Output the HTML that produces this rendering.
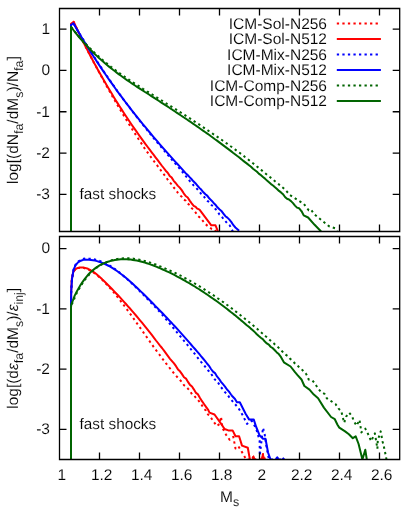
<!DOCTYPE html>
<html><head><meta charset="utf-8"><title>chart</title>
<style>
html,body{margin:0;padding:0;background:#fff;overflow:hidden;}
svg{display:block;}
text{font-family:"Liberation Sans",sans-serif;font-size:15.5px;fill:#000;stroke:#fff;stroke-width:0.1px;text-rendering:geometricPrecision;}
.tx{opacity:0.995;}
.sub{font-size:12.4px;}
</style></head><body>
<svg width="415" height="515" viewBox="0 0 415 515">
<rect width="415" height="515" fill="#fff"/>
<defs><clipPath id="c1"><rect x="59.5" y="8.5" width="340.2" height="223.0"/></clipPath><clipPath id="c2"><rect x="59.5" y="236.5" width="340.2" height="223.0"/></clipPath></defs>
<g clip-path="url(#c1)">
<polyline points="71.0,231.5 71.0,23.8 73.7,21.9 75.7,26.2 77.7,30.5 79.7,34.7 81.7,38.8 83.7,42.9 85.7,46.9 87.7,50.8 89.7,54.7 91.7,58.5 93.7,62.3 95.7,66.0 97.7,69.7 99.7,73.3 101.7,77.1 103.7,80.8 105.7,84.4 107.7,88.0 109.7,91.6 111.7,95.1 113.7,98.6 115.7,102.0 117.7,105.5 119.7,108.8 121.7,112.2 123.7,115.5 125.7,118.8 127.7,122.0 129.7,125.2 131.7,128.4 133.7,131.6 135.7,134.7 137.7,137.8 139.7,140.9 141.7,143.9 143.7,147.0 145.7,149.9 147.7,152.7 149.7,155.4 151.7,158.2 153.7,160.8 155.7,163.5 157.7,166.1 159.7,168.7 161.7,171.7 163.7,174.1 165.7,176.7 167.7,179.7 169.7,182.3 171.7,184.5 173.7,187.5 175.7,189.6 177.7,192.6 179.7,195.0 181.7,196.8 183.7,199.6 185.7,200.6 187.7,203.6 189.7,205.1 191.7,208.1 193.7,210.1 195.7,212.6 197.7,215.8 199.7,217.4 201.7,219.5 203.7,222.0 205.7,224.3 207.7,226.0 209.7,227.0 211.7,229.2 213.7,229.4 216.3,231.5" fill="none" stroke="#ff0000" stroke-width="2.0" stroke-linejoin="round" stroke-dasharray="2.3 3.24"/>
<polyline points="71.0,231.5 71.0,23.8 73.7,21.9 75.7,26.2 77.7,30.4 79.7,34.6 81.7,38.7 83.7,42.7 85.7,46.7 87.7,50.6 89.7,54.5 91.7,58.3 93.7,62.1 95.7,65.8 97.7,69.4 99.7,73.0 101.7,76.6 103.7,80.1 105.7,83.6 107.7,87.0 109.7,90.3 111.7,93.6 113.7,96.9 115.7,100.2 117.7,103.4 119.7,106.5 121.7,109.6 123.7,112.7 125.7,115.7 127.7,118.7 129.7,121.7 131.7,124.7 133.7,127.6 135.7,130.4 137.7,133.3 139.7,136.1 141.7,138.9 143.7,141.6 145.7,144.4 147.7,147.0 149.7,149.7 151.7,152.3 153.7,154.9 155.7,157.6 157.7,160.2 159.7,162.8 161.7,165.5 163.7,168.0 165.7,170.7 167.7,172.8 169.7,175.9 171.7,177.6 173.7,180.8 175.7,183.0 177.7,185.6 179.7,187.6 181.7,190.1 183.7,193.3 185.7,196.0 187.7,197.5 189.7,200.6 191.7,203.3 193.7,205.8 195.7,206.9 196.9,208.3 199.5,209.6 211.3,225.3 215.5,225.3 218.0,231.5" fill="none" stroke="#ff0000" stroke-width="2.0" stroke-linejoin="round"/>
<polyline points="71.0,231.5 71.0,25.0 73.4,23.3 75.4,26.7 77.4,30.0 79.4,33.4 81.4,36.7 83.4,39.9 85.4,43.1 87.4,46.3 89.4,49.5 91.4,52.6 93.4,55.7 95.4,58.8 97.4,61.9 99.4,64.9 101.4,67.9 103.4,70.9 105.4,73.8 107.4,76.7 109.4,79.6 111.4,82.5 113.4,85.3 115.4,88.2 117.4,91.0 119.4,93.8 121.4,96.6 123.4,99.3 125.4,102.0 127.4,104.7 129.4,107.4 131.4,110.0 133.4,112.7 135.4,115.3 137.4,117.8 139.4,120.4 141.4,122.9 143.4,125.4 145.4,127.9 147.4,130.4 149.4,132.9 151.4,135.3 153.4,137.8 155.4,140.2 157.4,142.6 159.4,144.9 161.4,147.3 163.4,149.7 165.4,152.0 167.4,154.4 169.4,156.7 171.4,159.1 173.4,161.4 175.4,163.7 177.4,166.0 179.4,168.4 181.4,170.8 183.4,173.2 185.4,175.7 187.4,178.1 189.4,180.6 191.4,182.7 193.4,185.2 195.4,186.9 197.4,189.3 199.4,191.6 201.4,194.1 203.4,195.8 205.4,198.6 207.4,200.9 209.4,202.3 211.4,205.0 213.4,206.5 215.4,209.1 217.4,210.9 219.4,214.4 221.4,215.9 223.4,219.0 225.4,221.1 227.4,223.6 229.4,224.9 231.4,228.7 232.8,231.5" fill="none" stroke="#0000ff" stroke-width="2.0" stroke-linejoin="round" stroke-dasharray="2.3 3.24"/>
<polyline points="71.0,231.5 71.0,25.0 73.4,23.3 75.4,26.7 77.4,30.2 79.4,33.6 81.4,36.9 83.4,40.2 85.4,43.5 87.4,46.7 89.4,49.9 91.4,53.1 93.4,56.2 95.4,59.3 97.4,62.4 99.4,65.4 101.4,68.4 103.4,71.4 105.4,74.3 107.4,77.2 109.4,80.1 111.4,82.9 113.4,85.7 115.4,88.5 117.4,91.3 119.4,94.0 121.4,96.7 123.4,99.4 125.4,102.0 127.4,104.6 129.4,107.2 131.4,109.8 133.4,112.4 135.4,114.9 137.4,117.4 139.4,119.9 141.4,122.4 143.4,124.8 145.4,127.2 147.4,129.6 149.4,132.0 151.4,134.4 153.4,136.8 155.4,139.1 157.4,141.4 159.4,143.8 161.4,146.1 163.4,148.3 165.4,150.6 167.4,152.9 169.4,155.1 171.4,157.3 173.4,159.6 175.4,161.8 177.4,164.0 179.4,166.2 181.4,168.4 183.4,170.7 185.4,172.9 187.4,174.7 189.4,176.9 191.4,179.0 193.4,181.3 195.4,183.2 197.4,185.6 199.4,187.9 201.4,189.8 203.4,192.3 205.4,194.3 207.4,195.9 209.4,198.6 211.4,200.4 213.4,202.7 215.4,204.7 217.4,207.3 219.4,209.2 221.4,210.9 223.4,213.6 225.4,216.2 227.4,217.6 229.4,219.6 231.4,222.1 233.4,225.2 235.4,227.5 237.4,229.2 239.1,230.8" fill="none" stroke="#0000ff" stroke-width="2.0" stroke-linejoin="round"/>
<polyline points="71.0,231.5 71.0,26.9 73.0,29.4 75.0,31.8 77.0,34.2 79.0,36.5 81.0,38.8 83.0,41.0 85.0,43.1 87.0,45.2 89.0,47.2 91.0,49.2 93.0,51.2 95.0,53.1 97.0,55.0 99.0,56.8 101.0,58.5 103.0,60.3 105.0,62.0 107.0,63.6 109.0,65.2 111.0,66.8 113.0,68.3 115.0,69.8 117.0,71.3 119.0,72.8 121.0,74.2 123.0,75.6 125.0,77.0 127.0,78.4 129.0,79.7 131.0,81.1 133.0,82.4 135.0,83.7 137.0,85.0 139.0,86.2 141.0,87.5 143.0,88.8 145.0,90.0 147.0,91.3 149.0,92.5 151.0,93.8 153.0,95.0 155.0,96.3 157.0,97.5 159.0,98.8 161.0,100.0 163.0,101.3 165.0,102.5 167.0,103.8 169.0,105.0 171.0,106.3 173.0,107.6 175.0,108.8 177.0,110.1 179.0,111.4 181.0,112.7 183.0,113.9 185.0,115.2 187.0,116.5 189.0,117.8 191.0,119.1 193.0,120.5 195.0,121.8 197.0,123.1 199.0,124.4 201.0,125.8 203.0,127.1 205.0,128.5 207.0,129.8 209.0,131.2 211.0,132.5 213.0,133.9 215.0,135.2 217.0,136.6 219.0,138.0 221.0,139.4 223.0,140.8 225.0,142.2 227.0,143.6 229.0,145.1 231.0,146.5 233.0,148.0 235.0,149.4 237.0,150.9 239.0,152.4 241.0,153.9 243.0,155.4 245.0,157.0 247.0,158.5 249.0,160.1 251.0,161.6 253.0,163.2 255.0,164.8 257.0,166.5 259.0,168.1 261.0,169.7 263.0,171.4 265.0,173.0 267.0,174.7 269.0,176.3 271.0,177.9 273.0,179.6 275.0,181.2 277.0,182.8 279.0,184.4 281.0,186.2 283.0,187.7 285.0,189.6 287.0,191.7 289.0,194.1 290.0,195.1 303.7,203.8 308.8,210.3 311.0,209.6 313.9,213.9 321.8,220.4 329.0,226.2 335.5,228.4 337.0,231.5" fill="none" stroke="#006400" stroke-width="2.0" stroke-linejoin="round" stroke-dasharray="2.3 3.24"/>
<polyline points="71.0,231.5 71.0,26.9 73.0,29.5 75.0,32.1 77.0,34.6 79.0,37.0 81.0,39.4 83.0,41.6 85.0,43.9 87.0,46.0 89.0,48.2 91.0,50.2 93.0,52.2 95.0,54.2 97.0,56.1 99.0,58.0 101.0,59.8 103.0,61.5 105.0,63.3 107.0,65.0 109.0,66.6 111.0,68.2 113.0,69.8 115.0,71.3 117.0,72.9 119.0,74.4 121.0,75.8 123.0,77.3 125.0,78.7 127.0,80.1 129.0,81.4 131.0,82.8 133.0,84.1 135.0,85.5 137.0,86.8 139.0,88.1 141.0,89.4 143.0,90.7 145.0,92.0 147.0,93.2 149.0,94.5 151.0,95.8 153.0,97.1 155.0,98.4 157.0,99.7 159.0,101.0 161.0,102.3 163.0,103.6 165.0,104.9 167.0,106.2 169.0,107.5 171.0,108.8 173.0,110.2 175.0,111.5 177.0,112.8 179.0,114.1 181.0,115.5 183.0,116.8 185.0,118.2 187.0,119.5 189.0,120.9 191.0,122.2 193.0,123.6 195.0,125.0 197.0,126.4 199.0,127.8 201.0,129.2 203.0,130.6 205.0,132.0 207.0,133.4 209.0,134.8 211.0,136.3 213.0,137.7 215.0,139.2 217.0,140.6 219.0,142.1 221.0,143.6 223.0,145.1 225.0,146.6 227.0,148.1 229.0,149.6 231.0,151.1 233.0,152.7 235.0,154.2 237.0,155.8 239.0,157.3 241.0,158.9 243.0,160.6 245.0,162.1 247.0,163.6 249.0,165.2 251.0,166.8 253.0,168.8 255.0,170.3 257.0,171.8 259.0,173.9 261.0,175.2 263.0,177.0 265.0,178.6 267.0,180.6 269.0,182.3 271.0,184.1 273.0,185.5 275.0,187.3 277.0,189.0 279.0,190.9 281.0,192.4 283.0,194.2 285.0,197.0 287.0,198.8 289.0,199.5 291.0,201.1 293.0,203.1 295.0,205.6 297.0,207.6 299.0,208.2 301.0,210.7 301.6,211.3 303.7,215.4 308.1,217.5 314.6,224.8 321.1,231.5" fill="none" stroke="#006400" stroke-width="2.0" stroke-linejoin="round"/>
</g>
<g clip-path="url(#c2)">
<polyline points="71.0,459.5 71.0,305.0 71.1,293.0 71.8,279.0 73.4,271.5 74.7,270.0 76.0,268.5 78.0,268.0 80.0,267.8 82.0,267.8 84.0,268.1 86.0,268.7 88.0,269.4 90.0,270.4 92.0,271.5 94.0,272.8 96.0,274.3 98.0,275.9 100.0,277.7 102.0,279.6 104.0,281.6 106.0,283.7 108.0,285.8 110.0,288.1 112.0,290.4 114.0,292.7 116.0,295.2 118.0,297.7 120.0,300.2 122.0,302.8 124.0,305.4 126.0,308.1 128.0,310.8 130.0,313.6 132.0,316.3 134.0,319.1 136.0,322.0 138.0,324.8 140.0,327.6 142.0,330.4 144.0,333.3 146.0,336.1 148.0,338.9 150.0,341.8 152.0,344.6 154.0,347.4 156.0,350.1 158.0,352.7 160.0,355.3 162.0,358.1 164.0,360.7 166.0,363.4 168.0,365.8 170.0,368.4 172.0,370.8 174.0,373.4 176.0,375.7 178.0,377.9 180.0,380.0 182.0,382.1 184.0,385.2 186.0,386.6 188.0,388.7 190.0,390.7 192.0,394.4 194.0,395.3 196.0,398.0 198.0,399.9 200.0,402.6 202.0,405.4 204.0,408.9 206.0,410.5 208.0,414.5 209.5,415.6 216.7,426.1 219.5,424.0 221.0,416.7 222.5,428.0 226.1,434.8 229.7,439.8 233.3,436.9 235.5,448.5 238.4,446.3 242.0,452.1 244.9,457.2 246.0,459.5 252.0,459.5 253.5,456.0 255.0,459.5 261.0,459.5 263.0,454.0 265.0,459.5" fill="none" stroke="#ff0000" stroke-width="2.0" stroke-linejoin="round" stroke-dasharray="2.3 3.24"/>
<polyline points="71.0,459.5 71.0,305.0 71.1,293.0 71.8,279.0 73.4,271.5 74.7,270.0 76.0,268.7 78.0,267.9 80.0,267.5 82.0,267.4 84.0,267.6 86.0,268.1 88.0,268.8 90.0,269.8 92.0,271.0 94.0,272.3 96.0,273.8 98.0,275.5 100.0,277.3 102.0,279.1 104.0,281.0 106.0,283.0 108.0,285.0 110.0,287.0 112.0,289.0 114.0,291.1 116.0,293.2 118.0,295.3 120.0,297.4 122.0,299.6 124.0,301.8 126.0,304.0 128.0,306.3 130.0,308.5 132.0,310.8 134.0,313.1 136.0,315.5 138.0,317.9 140.0,320.3 142.0,322.7 144.0,325.2 146.0,327.7 148.0,330.2 150.0,332.7 152.0,335.2 154.0,337.8 156.0,340.5 158.0,343.0 160.0,345.6 162.0,348.0 164.0,350.6 166.0,353.4 168.0,356.1 170.0,358.8 172.0,361.1 174.0,363.4 176.0,366.2 178.0,369.4 180.0,371.3 182.0,374.1 184.0,377.2 186.0,378.6 188.0,381.9 190.0,384.9 192.0,386.5 194.0,389.6 196.0,392.9 198.0,394.4 200.0,397.9 202.0,401.2 204.0,404.0 206.0,406.8 208.0,409.5 209.5,412.6 214.5,414.5 219.6,421.7 224.6,429.0 228.3,430.4 232.6,430.4 235.5,436.2 239.1,436.2 242.0,445.6 247.8,447.8 249.9,459.5" fill="none" stroke="#ff0000" stroke-width="2.0" stroke-linejoin="round"/>
<polyline points="71.0,459.5 71.0,302.0 71.3,290.0 72.0,279.0 73.6,269.3 75.5,264.6 78.0,261.6 80.8,259.8 84.0,258.6 87.0,258.7 89.0,258.7 91.0,258.8 93.0,259.1 95.0,259.5 97.0,260.1 99.0,260.7 101.0,261.4 103.0,262.2 105.0,263.1 107.0,264.1 109.0,265.2 111.0,266.4 113.0,267.7 115.0,269.1 117.0,270.6 119.0,272.1 121.0,273.7 123.0,275.4 125.0,277.1 127.0,278.9 129.0,280.7 131.0,282.6 133.0,284.5 135.0,286.4 137.0,288.4 139.0,290.4 141.0,292.4 143.0,294.4 145.0,296.5 147.0,298.6 149.0,300.6 151.0,302.7 153.0,304.8 155.0,306.9 157.0,309.0 159.0,311.1 161.0,313.3 163.0,315.7 165.0,318.0 167.0,320.4 169.0,322.7 171.0,325.1 173.0,327.5 175.0,329.9 177.0,332.3 179.0,334.8 181.0,337.2 183.0,339.6 185.0,342.0 187.0,344.4 189.0,346.8 191.0,349.3 193.0,351.8 195.0,354.2 197.0,356.8 199.0,359.4 201.0,361.8 203.0,364.0 205.0,366.4 207.0,369.3 209.0,371.3 211.0,373.6 213.0,376.8 215.0,379.7 217.0,380.9 219.0,384.1 221.0,387.2 223.0,389.4 225.0,392.2 227.0,393.9 229.0,396.9 229.7,397.9 238.4,408.0 242.7,415.2 247.0,423.9 250.7,421.0 252.0,421.1 256.2,428.7 259.6,440.5 259.8,455.7 263.0,427.8 264.6,433.7 266.3,445.5 268.9,459.5 275.6,459.5 277.5,457.0 279.0,459.5 282.0,459.5 283.0,458.0 284.0,459.5" fill="none" stroke="#0000ff" stroke-width="2.0" stroke-linejoin="round" stroke-dasharray="2.3 3.24"/>
<polyline points="71.0,459.5 71.0,302.0 71.3,290.0 72.0,279.0 73.6,269.7 75.5,265.3 78.0,262.4 80.8,260.7 84.0,259.6 87.0,259.8 89.0,259.8 91.0,260.0 93.0,260.2 95.0,260.6 97.0,261.1 99.0,261.7 101.0,262.4 103.0,263.1 105.0,264.0 107.0,265.0 109.0,266.0 111.0,267.2 113.0,268.4 115.0,269.7 117.0,271.0 119.0,272.5 121.0,274.0 123.0,275.5 125.0,277.1 127.0,278.8 129.0,280.5 131.0,282.3 133.0,284.1 135.0,285.9 137.0,287.8 139.0,289.7 141.0,291.6 143.0,293.5 145.0,295.5 147.0,297.5 149.0,299.5 151.0,301.5 153.0,303.5 155.0,305.6 157.0,307.6 159.0,309.7 161.0,311.7 163.0,313.8 165.0,315.9 167.0,318.0 169.0,320.1 171.0,322.2 173.0,324.4 175.0,326.5 177.0,328.7 179.0,330.9 181.0,333.1 183.0,335.4 185.0,337.6 187.0,339.9 189.0,342.1 191.0,344.5 193.0,346.8 195.0,349.0 197.0,351.3 199.0,353.7 201.0,356.2 203.0,358.5 205.0,360.8 207.0,363.5 209.0,365.8 211.0,369.0 213.0,371.6 215.0,373.1 217.0,376.4 219.0,378.8 221.0,381.9 223.0,384.2 225.0,386.6 227.0,389.5 229.0,391.6 231.0,394.5 231.9,395.7 235.0,399.0 236.9,402.2 239.8,402.2 245.6,413.8 249.2,419.6 253.7,419.4 256.2,427.0 259.6,435.4 263.0,438.8 265.5,438.8 268.0,452.3 270.5,459.5" fill="none" stroke="#0000ff" stroke-width="2.0" stroke-linejoin="round"/>
<polyline points="71.0,459.5 71.0,307.0 72.0,304.0 73.6,300.6 75.6,295.2 77.6,291.4 79.6,287.9 81.6,284.6 83.6,281.6 85.6,278.9 87.6,276.4 89.6,274.1 91.6,272.1 93.6,270.2 95.6,268.5 97.6,267.0 99.6,265.7 101.6,264.5 103.6,263.4 105.6,262.5 107.6,261.7 109.6,260.9 111.6,260.3 113.6,259.8 115.6,259.3 117.6,258.9 119.6,258.6 121.6,258.4 123.6,258.3 125.6,258.2 127.6,258.3 129.6,258.3 131.6,258.5 133.6,258.7 135.6,259.0 137.6,259.3 139.6,259.7 141.6,260.2 143.6,260.7 145.6,261.2 147.6,261.8 149.6,262.4 151.6,263.1 153.6,263.8 155.6,264.5 157.6,265.3 159.6,266.1 161.6,266.9 163.6,267.7 165.6,268.6 167.6,269.4 169.6,270.3 171.6,271.3 173.6,272.2 175.6,273.2 177.6,274.2 179.6,275.2 181.6,276.2 183.6,277.3 185.6,278.3 187.6,279.4 189.6,280.5 191.6,281.7 193.6,282.8 195.6,284.0 197.6,285.2 199.6,286.4 201.6,287.6 203.6,288.9 205.6,290.2 207.6,291.5 209.6,292.8 211.6,294.1 213.6,295.4 215.6,296.8 217.6,298.2 219.6,299.6 221.6,301.0 223.6,302.4 225.6,303.9 227.6,305.3 229.6,306.8 231.6,308.3 233.6,309.8 235.6,311.4 237.6,312.9 239.6,314.5 241.6,316.1 243.6,317.6 245.6,319.3 247.6,320.9 249.6,322.5 251.6,324.2 253.6,325.8 255.6,327.5 257.6,329.2 259.6,330.9 261.6,332.7 263.6,334.4 265.6,336.2 267.6,337.8 269.6,339.8 271.6,341.6 273.6,343.1 275.6,345.3 277.6,346.8 279.6,348.7 281.6,350.7 283.6,352.8 285.6,354.6 287.6,355.9 289.6,358.2 291.6,360.1 293.6,362.0 295.6,364.2 297.6,365.5 299.6,368.1 301.6,369.2 303.6,371.3 305.6,373.3 306.6,374.8 308.7,379.5 312.3,380.2 316.0,385.2 318.9,389.6 321.7,392.5 324.6,393.9 326.8,398.3 331.1,401.1 335.5,404.0 338.4,408.4 341.3,411.3 342.7,417.0 344.2,422.8 346.3,416.3 349.2,412.7 352.1,416.3 353.7,420.8 356.6,425.7 359.5,419.9 361.4,432.4 365.3,428.6 368.2,434.3 371.1,441.1 374.9,433.4 377.4,448.8 377.8,440.1 380.7,431.4 382.7,442.0 384.6,449.8 386.5,459.5" fill="none" stroke="#006400" stroke-width="2.0" stroke-linejoin="round" stroke-dasharray="2.3 3.24"/>
<polyline points="71.0,459.5 71.0,307.0 71.4,304.0 72.8,300.6 74.8,295.4 76.8,291.5 78.8,287.9 80.8,284.6 82.8,281.6 84.8,278.8 86.8,276.3 88.8,274.0 90.8,272.0 92.8,270.2 94.8,268.6 96.8,267.1 98.8,265.9 100.8,264.7 102.8,263.7 104.8,262.9 106.8,262.1 108.8,261.5 110.8,260.9 112.8,260.4 114.8,260.0 116.8,259.7 118.8,259.5 120.8,259.3 122.8,259.3 124.8,259.3 126.8,259.3 128.8,259.5 130.8,259.6 132.8,259.9 134.8,260.2 136.8,260.6 138.8,261.0 140.8,261.5 142.8,262.0 144.8,262.6 146.8,263.2 148.8,263.9 150.8,264.6 152.8,265.3 154.8,266.1 156.8,266.9 158.8,267.7 160.8,268.6 162.8,269.5 164.8,270.4 166.8,271.3 168.8,272.2 170.8,273.2 172.8,274.2 174.8,275.2 176.8,276.3 178.8,277.3 180.8,278.4 182.8,279.5 184.8,280.6 186.8,281.8 188.8,282.9 190.8,284.1 192.8,285.3 194.8,286.5 196.8,287.8 198.8,289.0 200.8,290.3 202.8,291.6 204.8,293.0 206.8,294.3 208.8,295.7 210.8,297.1 212.8,298.5 214.8,299.9 216.8,301.3 218.8,302.8 220.8,304.3 222.8,305.8 224.8,307.3 226.8,308.8 228.8,310.4 230.8,312.0 232.8,313.5 234.8,315.1 236.8,316.8 238.8,318.4 240.8,320.1 242.8,321.7 244.8,323.4 246.8,325.2 248.8,326.8 250.8,328.6 252.8,330.2 254.8,332.1 256.8,334.2 258.8,336.0 260.8,337.7 262.8,339.1 264.8,341.6 266.8,343.4 268.8,344.7 270.8,347.0 272.8,348.2 274.8,350.3 276.8,352.4 278.8,354.1 280.5,356.3 283.9,362.3 290.6,366.5 295.0,372.2 297.3,374.9 301.5,379.5 304.4,386.0 309.5,389.6 313.8,394.6 318.1,398.3 323.9,407.6 331.1,417.0 334.8,419.2 337.6,425.0 339.3,427.6 345.1,431.4 348.9,434.3 352.8,438.2 355.7,436.3 358.6,444.0 362.4,459.5 365.3,449.8 366.8,459.5" fill="none" stroke="#006400" stroke-width="2.0" stroke-linejoin="round"/>
<polygon points="252.0,459.5 253.6,455.6 255.4,459.5" fill="#ff0000" stroke="#ff0000" stroke-width="0.8"/>
<polygon points="260.6,459.5 263.0,453.6 265.0,459.5" fill="#ff0000" stroke="#ff0000" stroke-width="0.8"/>
<polygon points="275.0,459.5 277.5,456.6 279.6,459.5" fill="#0000ff" stroke="#0000ff" stroke-width="0.8"/>
<polygon points="281.8,459.5 283.3,457.6 284.6,459.5" fill="#0000ff" stroke="#0000ff" stroke-width="0.8"/>
</g>
<path d="M59.5,8.5H399.7V231.5H59.5ZM99.5,8.5v7.0M99.5,231.5v-7.0M139.5,8.5v7.0M139.5,231.5v-7.0M179.5,8.5v7.0M179.5,231.5v-7.0M219.5,8.5v7.0M219.5,231.5v-7.0M259.5,8.5v7.0M259.5,231.5v-7.0M299.5,8.5v7.0M299.5,231.5v-7.0M339.5,8.5v7.0M339.5,231.5v-7.0M379.5,8.5v7.0M379.5,231.5v-7.0M59.5,29.15h7.0M399.7,29.15h-7.0M59.5,70.45h7.0M399.7,70.45h-7.0M59.5,111.75h7.0M399.7,111.75h-7.0M59.5,153.05h7.0M399.7,153.05h-7.0M59.5,194.35h7.0M399.7,194.35h-7.0M59.5,236.5H399.7V459.5H59.5ZM99.5,236.5v7.0M99.5,459.5v-7.0M139.5,236.5v7.0M139.5,459.5v-7.0M179.5,236.5v7.0M179.5,459.5v-7.0M219.5,236.5v7.0M219.5,459.5v-7.0M259.5,236.5v7.0M259.5,459.5v-7.0M299.5,236.5v7.0M299.5,459.5v-7.0M339.5,236.5v7.0M339.5,459.5v-7.0M379.5,236.5v7.0M379.5,459.5v-7.0M59.5,248.55h7.0M399.7,248.55h-7.0M59.5,308.82h7.0M399.7,308.82h-7.0M59.5,369.09h7.0M399.7,369.09h-7.0M59.5,429.36h7.0M399.7,429.36h-7.0" fill="none" stroke="#000" stroke-width="1.3"/>
<g class="tx">
<text x="50" y="33.9" text-anchor="end">1</text>
<text x="50" y="75.2" text-anchor="end">0</text>
<text x="50" y="116.5" text-anchor="end">-1</text>
<text x="50" y="157.8" text-anchor="end">-2</text>
<text x="50" y="199.2" text-anchor="end">-3</text>
<text x="50" y="253.4" text-anchor="end">0</text>
<text x="50" y="313.6" text-anchor="end">-1</text>
<text x="50" y="373.9" text-anchor="end">-2</text>
<text x="50" y="434.2" text-anchor="end">-3</text>
<text x="61.7" y="480.3" text-anchor="middle">1</text>
<text x="101.7" y="480.3" text-anchor="middle">1.2</text>
<text x="141.7" y="480.3" text-anchor="middle">1.4</text>
<text x="181.7" y="480.3" text-anchor="middle">1.6</text>
<text x="221.7" y="480.3" text-anchor="middle">1.8</text>
<text x="261.7" y="480.3" text-anchor="middle">2</text>
<text x="301.7" y="480.3" text-anchor="middle">2.2</text>
<text x="341.7" y="480.3" text-anchor="middle">2.4</text>
<text x="381.7" y="480.3" text-anchor="middle">2.6</text>
<text x="229.6" y="501.6" text-anchor="middle">M<tspan class="sub" dy="4.6">s</tspan></text>
<text transform="translate(17.8,120.1) rotate(-90)" text-anchor="middle">log[(dN<tspan class="sub" dy="5.4">fa</tspan><tspan dy="-5.4">/dM</tspan><tspan class="sub" dy="5.4">s</tspan><tspan dy="-5.4">)/N</tspan><tspan class="sub" dy="5.4">fa</tspan><tspan dy="-5.4">]</tspan></text>
<text transform="translate(17.8,348.3) rotate(-90)" text-anchor="middle">log[(d<tspan font-style="italic">ε</tspan><tspan class="sub" dy="5.4">fa</tspan><tspan dy="-5.4">/dM</tspan><tspan class="sub" dy="5.4">s</tspan><tspan dy="-5.4">)/</tspan><tspan font-style="italic">ε</tspan><tspan class="sub" dy="5.4">inj</tspan><tspan dy="-5.4">]</tspan></text>
<text x="79.6" y="199.2" style="font-size:15.3px">fast shocks</text>
<text x="79.6" y="429.2" style="font-size:15.3px">fast shocks</text>
<text x="327" y="28.5" text-anchor="end">ICM-Sol-N256</text>
<line x1="336.8" y1="23.4" x2="379.5" y2="23.4" stroke="#ff0000" stroke-width="2.0" stroke-dasharray="2.3 3.24"/>
<text x="327" y="44.0" text-anchor="end">ICM-Sol-N512</text>
<line x1="336.8" y1="38.9" x2="380.9" y2="38.9" stroke="#ff0000" stroke-width="2.0"/>
<text x="327" y="59.6" text-anchor="end">ICM-Mix-N256</text>
<line x1="336.8" y1="54.5" x2="379.5" y2="54.5" stroke="#0000ff" stroke-width="2.0" stroke-dasharray="2.3 3.24"/>
<text x="327" y="75.1" text-anchor="end">ICM-Mix-N512</text>
<line x1="336.8" y1="70.0" x2="380.9" y2="70.0" stroke="#0000ff" stroke-width="2.0"/>
<text x="327" y="90.7" text-anchor="end">ICM-Comp-N256</text>
<line x1="336.8" y1="85.6" x2="379.5" y2="85.6" stroke="#006400" stroke-width="2.0" stroke-dasharray="2.3 3.24"/>
<text x="327" y="106.2" text-anchor="end">ICM-Comp-N512</text>
<line x1="336.8" y1="101.1" x2="380.9" y2="101.1" stroke="#006400" stroke-width="2.0"/>
</g>
</svg></body></html>
